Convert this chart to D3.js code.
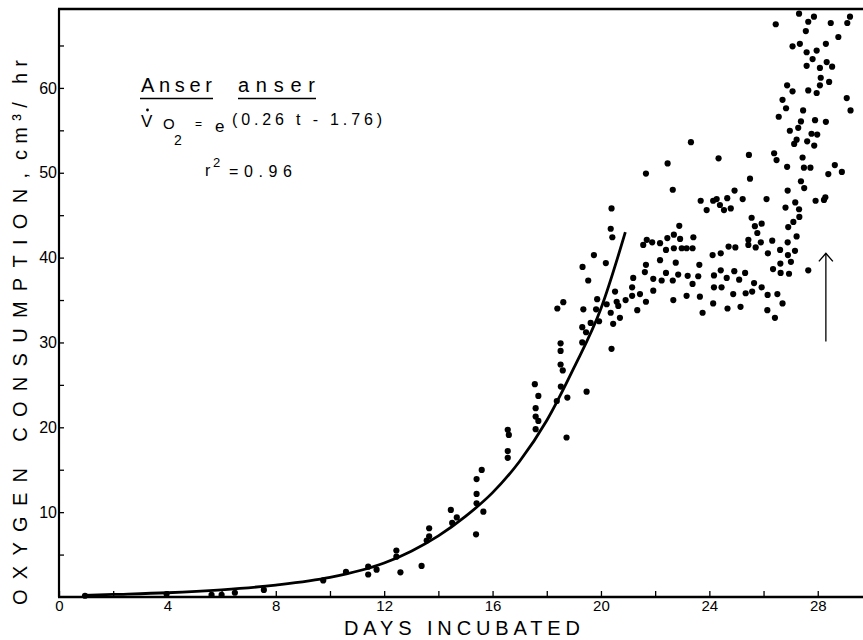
<!DOCTYPE html>
<html>
<head>
<meta charset="utf-8">
<script src="https://cdn.jsdelivr.net/npm/d3@7/dist/d3.min.js"></script>
<style>
  html, body { margin: 0; padding: 0; background: #fff; }
  svg { display: block; }
  text { font-family: "Liberation Sans", "DejaVu Sans", sans-serif; fill: #000; }
</style>
</head>
<body>
<svg id="chart" width="863" height="640"></svg>
<script>
// ---- data ----
const xTickValues = [0,2,4,6,8,10,12,14,16,18,20,22,24,26,28];
const xTickLabels = ["0","","4","","8","","12","","16","","20","","24","","28"];
const yTickValues = [5,10,15,20,25,30,35,40,45,50,55,60,65];
const yTickLabels = ["","10","","20","","30","","40","","50","","60",""];

// fitted curve (days, cm3/hr)
const curveDays = [0.9, 2, 4, 6, 8, 10, 12, 13, 14, 15, 16, 17, 18, 19, 20, 20.9];
const curveO2   = [0.2, 0.3, 0.5, 0.85, 1.4, 2.3, 4.0, 5.4, 7.2, 9.5, 12.3, 16.0, 20.8, 27.0, 34.0, 43.0];

// observed points [day, oxygen consumption]
const observations = [
[0.96,0.15],[3.97,0.35],[5.63,0.24],[6.0,0.24],[6.49,0.5],[7.56,0.83],[9.75,1.95],[10.59,2.95],
[11.41,3.57],[11.41,2.65],[11.72,3.22],[12.45,5.48],[12.45,4.75],[12.6,2.91],[13.38,3.66],[13.57,6.66],
[13.66,8.1],[13.66,7.16],[14.46,10.26],[14.51,8.73],[14.68,9.38],[15.41,13.9],[15.6,14.98],[15.41,12.15],
[15.41,11.05],[15.66,10.06],[15.39,7.39],[16.56,19.7],[16.6,19.1],[16.56,17.2],[16.56,16.4],
[17.56,25.08],[17.69,23.7],[17.59,22.25],[17.59,21.26],[17.69,20.75],[17.59,19.78],[18.73,18.8],
[18.51,29.9],[18.51,29.0],[18.51,27.4],[18.59,26.7],[18.52,24.8],[18.37,23.1],[18.76,23.5],[19.47,24.2],
[18.61,34.75],[18.39,34.0],[19.32,38.9],[19.53,37.3],[19.74,40.3],[20.18,39.35],[20.39,45.8],[20.36,43.4],
[20.42,42.4],[20.52,36.0],[19.86,35.1],[19.35,33.9],[19.82,33.9],[20.21,34.5],[20.58,34.8],[20.64,34.3],
[20.91,35.0],[20.36,33.5],[20.7,32.9],[19.62,32.3],[19.93,32.5],[20.45,32.2],[19.31,31.8],[19.45,31.2],
[19.31,30.0],[20.39,29.25],
[21.66,49.9],[22.46,51.1],[23.32,53.6],[22.65,48.0],[24.34,51.7],[25.46,52.1],[26.39,52.3],[26.48,51.5],
[26.87,50.7],[25.5,49.3],[27.44,51.8],[27.49,50.6],[27.73,50.6],[28.39,49.85],[28.63,50.9],[28.89,50.1],
[27.38,49.0],[27.5,48.2],[26.89,47.9],[27.92,46.7],[28.23,46.8],[28.28,47.1],[27.17,46.5],[26.81,45.9],
[27.31,45.7],[27.32,44.8],[27.1,44.2],[26.91,43.6],[27.22,42.5],[26.11,46.9],[25.23,46.9],[24.93,47.9],
[24.66,47.0],[24.79,45.8],[24.54,45.6],[24.39,46.2],[24.27,46.9],[24.14,46.7],[23.9,45.6],[23.68,46.7],
[25.56,44.7],[25.93,44.0],[25.68,43.7],[25.77,42.9],[25.44,42.1],[25.44,41.5],[25.71,41.2],[25.9,41.8],
[26.32,42.0],[26.89,41.8],[27.16,40.8],[26.61,40.9],[26.16,40.5],[26.9,40.3],[27.01,39.5],[26.62,39.3],
[26.35,38.65],[26.63,38.2],[26.94,38.1],[27.65,38.5],[24.71,41.3],[24.96,41.2],[24.42,40.5],[24.12,40.3],
[22.89,43.75],[22.69,42.7],[22.45,42.3],[22.92,42.2],[23.41,42.4],[21.69,42.1],[21.56,41.5],[21.89,41.8],
[22.18,41.7],[22.4,40.9],[22.69,41.1],[22.98,41.1],[23.16,41.1],[23.38,41.1],[22.18,39.7],[21.66,39.15],
[21.62,38.3],[22.76,39.4],[23.63,39.15],[22.4,38.2],[22.85,38.0],[23.2,37.85],[23.59,37.8],[21.93,37.5],
[22.24,37.3],[22.65,37.3],[23.38,36.9],[21.19,37.6],[21.15,36.5],[21.44,35.7],[21.15,35.5],[21.93,36.1],
[21.66,34.8],[21.34,33.8],[22.67,35.0],[23.16,35.5],[23.65,35.4],[23.75,33.5],[24.42,38.5],[24.17,37.9],
[24.64,37.6],[24.92,38.4],[25.32,38.2],[25.1,37.4],[24.17,36.5],[24.45,36.5],[24.88,35.7],[25.34,35.8],
[25.58,36.0],[25.65,37.0],[25.93,36.5],[26.15,35.6],[26.51,35.7],[26.7,34.6],[24.14,34.6],[24.67,34.0],
[25.15,34.2],[26.14,33.8],[26.42,32.9],
[27.31,68.75],[27.65,67.8],[27.86,68.4],[26.45,67.5],[28.48,67.65],[29.09,67.65],[29.19,68.4],[27.56,66.7],
[28.76,66.0],[27.07,64.9],[27.34,65.2],[28.3,65.2],[27.59,64.2],[27.96,64.4],[27.81,63.4],[28.33,63.05],
[27.59,62.6],[28.08,62.35],[28.53,62.5],[28.11,61.2],[28.42,60.7],[28.08,60.3],[26.87,60.3],[27.07,59.6],
[27.65,59.7],[27.96,59.4],[26.7,58.6],[29.07,58.8],[26.83,57.6],[27.46,57.35],[29.21,57.35],[26.56,56.6],
[27.38,56.05],[27.9,56.2],[28.3,56.0],[26.97,54.95],[27.28,55.3],[27.77,54.6],[27.98,54.5],[27.22,53.9],
[27.13,53.4],[27.61,53.7],[27.87,53.2]
];

// hatching arrow (day, from value, to value)
const arrowDay = 28.3;
const arrowFrom = 30.1;
const arrowTo = 40.5;

// ---- drawing ----
const svg = d3.select("#chart");
svg.append("rect").attr("width", 863).attr("height", 640).attr("fill", "#fff");

const x = d3.scaleLinear().domain([0, 29.67]).range([59, 863]);
const y = d3.scaleLinear().domain([0, 69.3]).range([597, 9]);

// x axis
const xAxis = d3.axisBottom(x)
  .tickValues(xTickValues)
  .tickSize(-6)
  .tickPadding(3)
  .tickFormat((d, i) => xTickLabels[i]);
const gx = svg.append("g").attr("transform", `translate(0,${y(0)})`).call(xAxis);
gx.select(".domain").remove();
gx.selectAll(".tick line").attr("stroke", "#000").attr("stroke-width", 1.3);
gx.selectAll(".tick text")
  .style("font-family", '"Liberation Sans Narrow", "Liberation Sans", sans-serif')
  .style("font-size", "15px");

// y axis
const yAxis = d3.axisLeft(y)
  .tickValues(yTickValues)
  .tickSize(-5)
  .tickPadding(2)
  .tickFormat((d, i) => yTickLabels[i]);
const gy = svg.append("g").attr("transform", `translate(${x(0)},0)`).call(yAxis);
gy.select(".domain").remove();
gy.selectAll(".tick line").attr("stroke", "#000").attr("stroke-width", 1.3);
gy.selectAll(".tick text").style("font-size", "16px");

// frame lines
svg.append("line").attr("x1", x(0)).attr("x2", x(0)).attr("y1", y(0)).attr("y2", y(69.3))
  .attr("stroke", "#000").attr("stroke-width", 2.2);
svg.append("line").attr("x1", x(0) - 1).attr("x2", 863).attr("y1", y(0)).attr("y2", y(0))
  .attr("stroke", "#000").attr("stroke-width", 2.6);
svg.append("line").attr("x1", x(0) - 1).attr("x2", 863).attr("y1", y(69.3)).attr("y2", y(69.3))
  .attr("stroke", "#000").attr("stroke-width", 2.6);

// axis titles
svg.append("text")
  .attr("x", 462).attr("y", 635)
  .attr("text-anchor", "middle")
  .attr("textLength", 236).attr("lengthAdjust", "spacing")
  .style("font-size", "20px")
  .text("DAYS   INCUBATED");

const yt = svg.append("g").attr("transform", "translate(27,0) rotate(-90)");
yt.append("text")
  .attr("x", -605).attr("y", 0)
  .attr("textLength", 432).attr("lengthAdjust", "spacing")
  .style("font-size", "20px")
  .text("OXYGEN  CONSUMPTION,");
yt.append("text")
  .attr("x", -160).attr("y", 0)
  .attr("textLength", 100).attr("lengthAdjust", "spacing")
  .style("font-size", "20px")
  .text("cm³/ hr");

// fitted curve
const curveData = curveDays.map((d, i) => [d, curveO2[i]]);
svg.append("path")
  .datum(curveData)
  .attr("fill", "none")
  .attr("stroke", "#000")
  .attr("stroke-width", 2.8)
  .attr("d", d3.line().x(d => x(d[0])).y(d => y(d[1])).curve(d3.curveMonotoneX));

// points
svg.append("g").selectAll("circle")
  .data(observations)
  .join("circle")
  .attr("cx", d => x(d[0]))
  .attr("cy", d => y(d[1]))
  .attr("r", 3.1)
  .attr("fill", "#000");

// arrow
const ax = x(arrowDay), ay1 = y(arrowFrom), ay2 = y(arrowTo);
svg.append("line").attr("x1", ax).attr("x2", ax).attr("y1", ay1).attr("y2", ay2)
  .attr("stroke", "#000").attr("stroke-width", 1.3);
svg.append("path")
  .attr("d", `M${ax - 7},${ay2 + 8} L${ax},${ay2} L${ax + 7},${ay2 + 8}`)
  .attr("fill", "none").attr("stroke", "#000").attr("stroke-width", 1.4);

// annotation
const ann = svg.append("g");
ann.append("text").attr("x", 141).attr("y", 92).style("font-size", "20px")
  .attr("textLength", 71).attr("lengthAdjust", "spacing").text("Anser");
ann.append("text").attr("x", 238).attr("y", 92).style("font-size", "20px")
  .attr("textLength", 77).attr("lengthAdjust", "spacing").text("anser");
ann.append("line").attr("x1", 140).attr("x2", 213).attr("y1", 98.5).attr("y2", 98.5)
  .attr("stroke", "#000").attr("stroke-width", 1.5);
ann.append("line").attr("x1", 238).attr("x2", 316).attr("y1", 98.5).attr("y2", 98.5)
  .attr("stroke", "#000").attr("stroke-width", 1.5);

ann.append("text").attr("x", 141).attr("y", 127).style("font-size", "17px").text("V");
ann.append("circle").attr("cx", 147.5).attr("cy", 110).attr("r", 1.4).attr("fill", "#000");
ann.append("text").attr("x", 163).attr("y", 129).style("font-size", "15px").text("O");
ann.append("text").attr("x", 174).attr("y", 145).style("font-size", "14px").text("2");
ann.append("text").attr("x", 195).attr("y", 128).style("font-size", "12px").text("=");
ann.append("text").attr("x", 215).attr("y", 132).style("font-size", "17px").text("e");
ann.append("text").attr("x", 232).attr("y", 125).style("font-size", "16px")
  .attr("textLength", 150).attr("lengthAdjust", "spacing").text("(0.26  t  -  1.76)");

ann.append("text").attr("x", 205).attr("y", 176).style("font-size", "16px").text("r");
ann.append("text").attr("x", 213).attr("y", 167).style("font-size", "13px").text("2");
ann.append("text").attr("x", 229).attr("y", 177).style("font-size", "16px")
  .attr("textLength", 63).attr("lengthAdjust", "spacing").text("=0.96");
</script>
</body>
</html>
